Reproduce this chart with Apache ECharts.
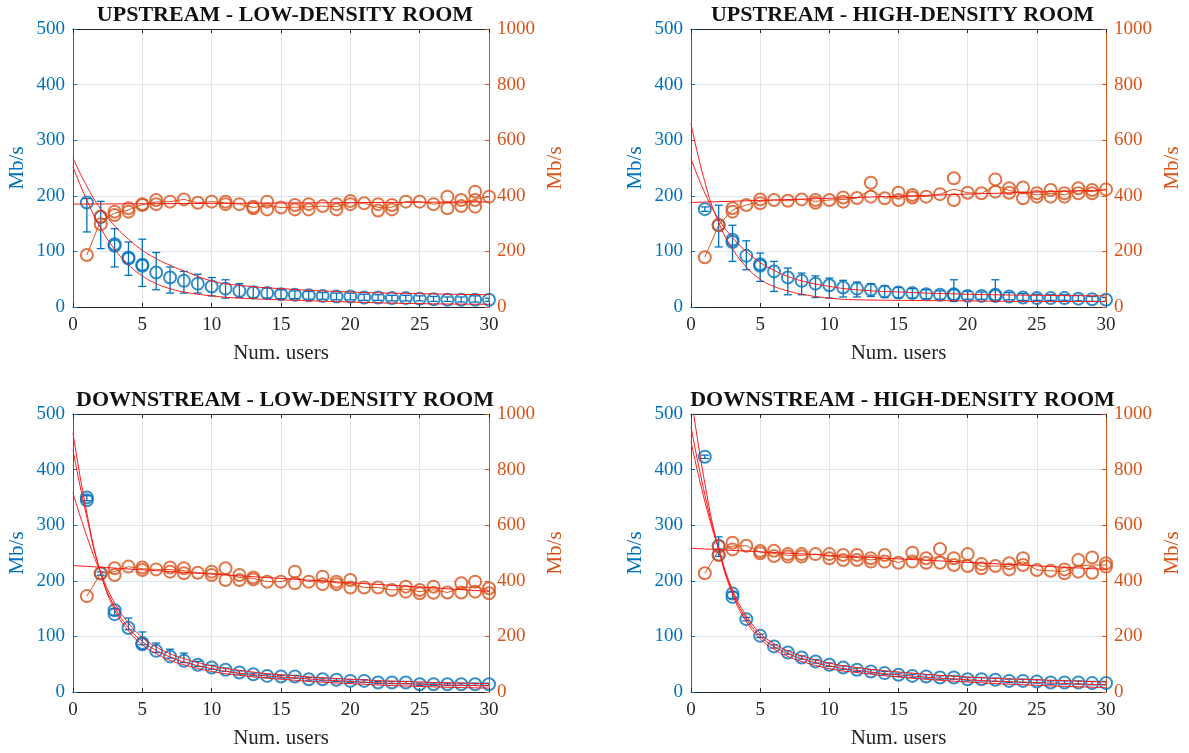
<!DOCTYPE html>
<html><head><meta charset="utf-8">
<script src="https://cdn.jsdelivr.net/npm/echarts@6.0.0/dist/echarts.min.js"></script>
<style>html,body{margin:0;padding:0;background:#fff}#c{width:1189px;height:753px}</style>
</head><body><div id="c"></div>
<script>
// ---------------- data ----------------
const USERS = [1,2,3,4,5,6,7,8,9,10,11,12,13,14,15,16,17,18,19,20,21,22,23,24,25,26,27,28,29,30];
const X_TICKS = [0,5,10,15,20,25,30];
const FIT_X = [0,1,2,3,4,5,6,7,8,10,12,15,20,25,30];
const TITLES = ['UPSTREAM - LOW-DENSITY ROOM','UPSTREAM - HIGH-DENSITY ROOM','DOWNSTREAM - LOW-DENSITY ROOM','DOWNSTREAM - HIGH-DENSITY ROOM'];

// Upstream, low density
const UL_BLUE = [188,162,110,87,74,62,53,47,42,37,33,29,26,25,23,22,21,20,19,19,17,17,16,16,15,14,13,13,13,13];
const UL_BLUE2 = [null,null,113,89,76,null,null,null,null,null,null,null,null,null,null,null,null,null,null,null,null,null,null,null,null,null,null,null,null,null];
const UL_LO = [135,105,72,57,37,31,25,25,25,20,16,17,16,16,15,15,14,14,13,13,12,12,11,11,11,10,10,9,9,10];
const UL_HI = [195,190,141,117,122,98,72,64,59,53,49,42,37,34,31,29,28,26,25,25,23,22,21,21,20,19,18,18,20,16];
const UL_OR_A = [187,325,343,355,370,385,379,387,375,379,379,370,361,379,358,367,370,363,370,381,373,370,367,379,379,370,397,385,415,397];
const UL_OR_B = [null,298,331,343,367,370,null,null,null,null,370,null,355,351,null,351,351,null,351,370,null,347,351,null,null,null,355,363,385,null];
const UL_OR_C = [null,null,null,null,null,null,null,null,null,null,null,null,null,null,null,null,null,null,null,null,null,null,null,null,null,null,null,null,361,null];
const UL_FIT_1 = [268,217,176,146,122,102,87,75,65,47,39,33,27,24,22];
const UL_FIT_2 = [252,192,142,104,76,56,42,33,27,20,16,13,9,6,5];
const UL_FIT_3 = [];
const UL_AGG = [370,378];

// Upstream, high density
const UH_BLUE = [176,147,117,92,74,64,53,47,42,39,35,33,31,28,26,25,23,22,21,20,20,20,19,17,16,16,16,15,14,13];
const UH_BLUE2 = [null,null,121,null,77,null,null,null,null,null,null,null,null,null,null,null,null,null,23,null,null,22,null,null,null,null,null,null,null,null];
const UH_LO = [172,108,82,67,46,28,22,22,17,16,18,18,19,17,16,16,15,14,10,14,14,10,13,12,12,12,12,11,10,10];
const UH_HI = [180,183,147,119,97,82,70,61,56,52,48,45,42,38,35,33,31,29,49,28,27,49,26,24,23,22,22,21,19,17];
const UH_OR_A = [179,295,355,367,387,385,382,387,385,385,394,392,447,391,411,403,397,406,463,411,409,459,427,430,409,421,409,427,421,423];
const UH_OR_B = [null,null,343,null,373,null,null,null,375,null,379,null,397,null,385,394,null,null,385,null,null,415,411,391,397,397,397,409,409,null];
const UH_OR_C = [null,null,null,null,null,null,null,null,null,null,null,null,null,null,null,null,null,null,null,null,null,null,null,null,null,null,null,null,null,null];
const UH_FIT_1 = [330,225,152,105,72,50,37,29,23,16,13,12,11,10,10];
const UH_FIT_2 = [267,205,158,125,100,80,66,55,47,37,31,27,23,21,20];
const UH_FIT_3 = [];
const UH_AGG = [376,421];

// Downstream, low density
const DL_BLUE = [350,213,147,115,88,74,64,56,49,44,40,35,32,29,28,28,23,23,22,20,20,17,17,17,14,14,14,14,14,14];
const DL_BLUE2 = [345,null,140,null,86,null,null,null,null,null,null,null,null,null,null,null,null,null,null,null,null,null,null,null,null,null,null,null,null,null];
const DL_LO = [344,210,138,112,85,71,61,53,46,41,37,32,29,26,25,25,20,20,19,17,17,15,15,15,12,12,12,12,12,12];
const DL_HI = [353,216,150,133,108,88,77,70,55,48,43,38,34,31,30,30,26,25,24,22,22,19,19,19,16,16,16,16,16,16];
const DL_OR_A = [345,427,445,451,448,441,448,445,429,433,445,421,412,397,397,433,397,415,397,403,376,376,367,379,367,379,358,391,397,373];
const DL_OR_B = [null,null,421,null,439,null,433,427,null,421,403,403,405,null,null,391,null,388,388,376,null,null,null,361,355,357,null,358,361,355];
const DL_OR_C = [null,null,null,null,null,null,null,null,null,null,null,null,null,null,null,null,null,null,null,null,null,null,null,null,null,null,null,null,null,null];
const DL_FIT_1 = [466,322,214,148,110,85,69,57,49,37,30,23,15,10,7];
const DL_FIT_2 = [435,314,214,153,116,91,75,63,54,42,34,27,19,14,11];
const DL_FIT_3 = [358,280,214,160,124,98,81,69,60,47,39,31,23,18,15];
const DL_AGG = [455,362];

// Downstream, high density
const DH_BLUE = [423,263,177,131,101,82,71,62,55,49,44,40,37,34,31,29,28,26,26,23,23,22,20,20,19,17,17,17,16,16];
const DH_BLUE2 = [null,247,171,null,null,null,null,null,null,null,null,null,null,null,null,null,null,null,null,null,null,null,null,null,null,null,null,null,null,null];
const DH_LO = [420,244,168,128,98,79,68,59,52,46,41,37,34,31,28,26,25,23,23,20,20,19,17,17,16,14,14,14,13,13];
const DH_HI = [426,279,180,134,104,85,74,65,58,52,47,43,40,37,34,32,31,29,29,26,26,25,23,23,22,20,20,20,19,19];
const DH_OR_A = [427,523,537,526,507,508,496,496,496,496,493,493,481,493,465,501,481,514,481,496,460,453,463,481,439,436,441,475,484,463];
const DH_OR_B = [null,493,513,null,499,489,487,487,null,481,475,475,469,469,null,469,465,465,457,453,445,null,441,457,null,null,427,433,429,451];
const DH_OR_C = [null,null,null,null,null,null,null,null,null,null,null,null,null,null,null,null,null,null,null,null,null,null,null,null,null,null,null,null,null,null];
const DH_FIT_1 = [535,375,257,176,127,96,77,64,55,42,35,27,18,12,8];
const DH_FIT_2 = [477,355,257,180,132,101,82,69,60,47,39,31,22,17,13];
const DH_FIT_3 = [450,343,257,184,137,106,87,74,65,52,44,36,27,22,18];
const DH_AGG = [517,441];

// ---------------- layout / style ----------------
const BLUE = '#0072BD', ORANGE = '#D95319', RED = '#FF1A1A', DARK = '#262626';
const FONT = '"Liberation Serif","Times New Roman",serif';
const GRIDS = [
  {left:73, top:29, width:416, height:278},
  {left:691, top:29, width:415, height:278},
  {left:73, top:414, width:416, height:278},
  {left:691, top:414, width:415, height:278}
];
const PANELS = [
  {blue:UL_BLUE, blue2:UL_BLUE2, lo:UL_LO, hi:UL_HI, or:[UL_OR_A,UL_OR_B,UL_OR_C], fits:[UL_FIT_1,UL_FIT_2,UL_FIT_3], agg:UL_AGG},
  {blue:UH_BLUE, blue2:UH_BLUE2, lo:UH_LO, hi:UH_HI, or:[UH_OR_A,UH_OR_B,UH_OR_C], fits:[UH_FIT_1,UH_FIT_2,UH_FIT_3], agg:UH_AGG},
  {blue:DL_BLUE, blue2:DL_BLUE2, lo:DL_LO, hi:DL_HI, or:[DL_OR_A,DL_OR_B,DL_OR_C], fits:[DL_FIT_1,DL_FIT_2,DL_FIT_3], agg:DL_AGG},
  {blue:DH_BLUE, blue2:DH_BLUE2, lo:DH_LO, hi:DH_HI, or:[DH_OR_A,DH_OR_B,DH_OR_C], fits:[DH_FIT_1,DH_FIT_2,DH_FIT_3], agg:DH_AGG}
];

const xAxes = [], yAxes = [], series = [], graphics = [];
GRIDS.forEach((g, gi) => {
  xAxes.push({
    type:'value', gridIndex:gi, position:'bottom', min:0, max:30, interval:5,
    axisLine:{show:true, onZero:false, lineStyle:{color:DARK, width:1}},
    axisTick:{show:true, inside:true, length:4, lineStyle:{color:DARK}},
    axisLabel:{color:DARK, fontFamily:FONT, fontSize:19, margin:9,
      formatter: v => X_TICKS.includes(v) ? String(v) : ''},
    splitLine:{show:true, lineStyle:{color:'#E3E3E6', width:1}},
    name:'Num. users', nameLocation:'middle', nameGap:36,
    nameTextStyle:{color:DARK, fontFamily:FONT, fontSize:21}
  });
  xAxes.push({
    type:'value', gridIndex:gi, position:'top', min:0, max:30, interval:5,
    axisLine:{show:true, onZero:false, lineStyle:{color:DARK, width:1}},
    axisTick:{show:true, inside:true, length:4, lineStyle:{color:DARK}},
    axisLabel:{show:false}, splitLine:{show:false}
  });
  yAxes.push({
    type:'value', gridIndex:gi, position:'left', min:0, max:500, interval:100,
    axisLine:{show:true, onZero:false, lineStyle:{color:BLUE, width:1}},
    axisTick:{show:true, inside:true, length:4, lineStyle:{color:BLUE}},
    axisLabel:{color:BLUE, fontFamily:FONT, fontSize:19, margin:8, formatter: v => String(v)},
    splitLine:{show:true, lineStyle:{color:'#DCE5F1', width:1}},
    name:'Mb/s', nameLocation:'middle', nameGap:45, nameRotate:90,
    nameTextStyle:{color:BLUE, fontFamily:FONT, fontSize:21}
  });
  yAxes.push({
    type:'value', gridIndex:gi, position:'right', min:0, max:1000, interval:200,
    axisLine:{show:true, onZero:false, lineStyle:{color:ORANGE, width:1}},
    axisTick:{show:true, inside:true, length:4, lineStyle:{color:ORANGE}},
    axisLabel:{color:ORANGE, fontFamily:FONT, fontSize:19, margin:8, formatter: v => String(v)},
    splitLine:{show:false},
    name:'Mb/s', nameLocation:'middle', nameGap:56, nameRotate:90,
    nameTextStyle:{color:ORANGE, fontFamily:FONT, fontSize:21}
  });

  const p = PANELS[gi];
  const xi = gi*2, yl = gi*2, yr = gi*2+1;
  const hollow = c => ({color:'rgba(0,0,0,0)', borderColor:c, borderWidth:2});

  // blue error bars
  series.push({
    type:'custom', xAxisIndex:xi, yAxisIndex:yl, z:2, clip:true, silent:true,
    encode:{x:0, y:[1,2]},
    data: USERS.map((u,i) => [u, p.lo[i], p.hi[i]]),
    renderItem: (params, api) => {
      const x = api.value(0);
      const a = api.coord([x, api.value(1)]), b = api.coord([x, api.value(2)]);
      const w = 4, st = {stroke:BLUE, lineWidth:1.3};
      return {type:'group', children:[
        {type:'line', shape:{x1:a[0], y1:a[1], x2:b[0], y2:b[1]}, style:st},
        {type:'line', shape:{x1:a[0]-w, y1:a[1], x2:a[0]+w, y2:a[1]}, style:st},
        {type:'line', shape:{x1:b[0]-w, y1:b[1], x2:b[0]+w, y2:b[1]}, style:st}
      ]};
    }
  });
  // blue markers
  [p.blue, p.blue2].forEach(arr => {
    series.push({
      type:'scatter', xAxisIndex:xi, yAxisIndex:yl, z:3, silent:true,
      symbol:'circle', symbolSize:12, itemStyle:hollow(BLUE),
      data: USERS.map((u,i) => [u, arr[i]]).filter(d => d[1] != null)
    });
  });
  // orange mean line
  series.push({
    type:'line', xAxisIndex:xi, yAxisIndex:yr, z:3, silent:true, showSymbol:false,
    lineStyle:{color:ORANGE, width:1},
    data: USERS.map((u,i) => {
      const vals = p.or.map(a => a[i]).filter(v => v != null);
      return [u, vals.reduce((s,v)=>s+v,0)/vals.length];
    })
  });
  // orange markers
  p.or.forEach(arr => {
    series.push({
      type:'scatter', xAxisIndex:xi, yAxisIndex:yr, z:3, silent:true,
      symbol:'circle', symbolSize:12, itemStyle:hollow(ORANGE),
      data: USERS.map((u,i) => [u, arr[i]]).filter(d => d[1] != null)
    });
  });
  // fitted curves (left axis)
  p.fits.forEach(arr => {
    if (!arr.length) return;
    series.push({
      type:'line', xAxisIndex:xi, yAxisIndex:yl, z:4, silent:true, showSymbol:false,
      smooth:0.5, clip:true,
      lineStyle:{color:RED, width:1},
      data: FIT_X.map((x,i) => [x, arr[i]])
    });
  });
  // aggregate fit (right axis)
  series.push({
    type:'line', xAxisIndex:xi, yAxisIndex:yr, z:4, silent:true, showSymbol:false,
    lineStyle:{color:RED, width:1},
    data: [[0, p.agg[0]], [30, p.agg[1]]]
  });

  graphics.push({
    type:'text', x: g.left + g.width/2 + 4, y: g.top - 14,
    style:{text:TITLES[gi], font:'bold 22px ' + FONT, fill:'#111',
      align:'center', verticalAlign:'middle', textAlign:'center', textVerticalAlign:'middle'}
  });
});

const chart = echarts.init(document.getElementById('c'), null, {renderer:'canvas'});
chart.setOption({
  animation:false,
  backgroundColor:'#fff',
  grid: GRIDS.map(g => ({left:g.left, top:g.top, width:g.width, height:g.height, containLabel:false})),
  xAxis: xAxes, yAxis: yAxes, series: series, graphic: graphics
});
</script></body></html>
